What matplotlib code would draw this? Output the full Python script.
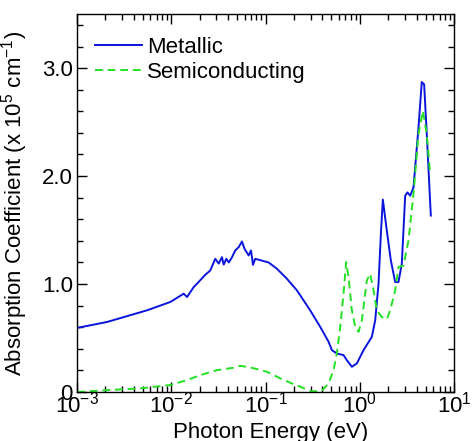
import matplotlib
matplotlib.use("Agg")
import matplotlib.pyplot as plt
from matplotlib import ticker

plt.rcParams['font.family'] = ['Liberation Sans', 'DejaVu Sans']
plt.rcParams['mathtext.default'] = 'regular'

# photon energy (eV) and absorption coefficient (x 1e5 cm^-1)
metallic_energy = [0.001, 0.00208, 0.00552, 0.00975, 0.01352, 0.01466, 0.01726, 0.0187,
                   0.0229, 0.0259, 0.0292, 0.0318, 0.0344, 0.0359, 0.0383, 0.0407, 0.0440,
                   0.0476, 0.0518, 0.0561, 0.0598, 0.0661, 0.0700, 0.0735, 0.0776, 0.1076,
                   0.1318, 0.1683, 0.2148, 0.297, 0.380, 0.466, 0.505, 0.570, 0.671, 0.728,
                   0.822, 0.929, 1.094, 1.340, 1.455, 1.578, 1.671, 1.754, 1.932, 2.133,
                   2.371, 2.570, 2.786, 3.027, 3.199, 3.420, 3.707, 4.188, 4.539, 4.808,
                   5.129, 5.662]
metallic_alpha = [0.594, 0.649, 0.757, 0.834, 0.911, 0.88, 0.972, 1.003,
                  1.086, 1.126, 1.234, 1.19, 1.249, 1.18, 1.234, 1.20, 1.249,
                  1.311, 1.342, 1.394, 1.326, 1.265, 1.311, 1.178, 1.234, 1.20,
                  1.142, 1.049, 0.942, 0.757, 0.603, 0.465, 0.388, 0.357, 0.342, 0.295,
                  0.234, 0.265, 0.388, 0.511, 0.665, 1.003, 1.465, 1.782, 1.495, 1.218,
                  1.018, 1.018, 1.188, 1.818, 1.849, 1.818, 1.895, 2.449, 2.871, 2.849,
                  2.388, 1.634]

semi_energy = [0.001, 0.00208, 0.00469, 0.00975, 0.01466, 0.0203, 0.0305, 0.0458, 0.0538,
               0.0687, 0.1033, 0.1552, 0.2328, 0.3097, 0.3954, 0.4656, 0.526, 0.570,
               0.619, 0.671, 0.716, 0.759, 0.822, 0.893, 0.968, 1.050, 1.186, 1.288,
               1.396, 1.514, 1.710, 1.932, 2.099, 2.371, 2.570, 2.904, 3.281, 3.707,
               4.188, 4.656, 5.129, 5.572]
semi_alpha = [0.0, 0.018, 0.034, 0.065, 0.111, 0.157, 0.203, 0.225, 0.243,
              0.228, 0.188, 0.111, 0.049, 0.006, 0.012, 0.08, 0.203, 0.357,
              0.603, 0.911, 1.203, 1.065, 0.757, 0.603, 0.557, 0.665, 1.034, 1.095,
              0.942, 0.757, 0.695, 0.674, 0.757, 0.942, 1.157, 1.172, 1.403, 1.834,
              2.388, 2.603, 2.388, 2.018]

fig = plt.figure(figsize=(4.76, 4.41), dpi=100)
ax = fig.add_axes([0.162, 0.111, 0.792, 0.857])

ax.plot(metallic_energy, metallic_alpha, color='#0a14dc', lw=1.4, label='Metallic')
ax.plot(semi_energy, semi_alpha, color='#22e022', lw=1.4, ls=(0, (4, 2.5)),
        label='Semiconducting')

ax.set_xscale('log')
ax.set_xlim(1e-3, 1e1)
ax.set_ylim(0, 3.5)

ax.yaxis.set_major_locator(ticker.MultipleLocator(1.0))
ax.yaxis.set_minor_locator(ticker.MultipleLocator(0.2))
ax.yaxis.set_major_formatter(ticker.FuncFormatter(lambda v, p: '0' if v == 0 else '%.1f' % v))
ax.xaxis.set_minor_locator(ticker.LogLocator(base=10, subs=range(2, 10), numticks=20))
ax.xaxis.set_minor_formatter(ticker.NullFormatter())

ax.tick_params(which='both', direction='in', top=True, right=True, labelsize=16, width=1)
ax.tick_params(which='major', length=7)
ax.tick_params(which='minor', length=4)
ax.tick_params(axis='x', which='major', pad=0)
ax.tick_params(axis='y', which='major', pad=3)
for s in ax.spines.values():
    s.set_linewidth(1)

ax.set_xlabel('Photon Energy (eV)', fontsize=16)
ax.xaxis.set_label_coords(0.514, -0.078)
ax.set_ylabel('Absorption Coefficient (x 10$^5$ cm$^{-1}$)', fontsize=16)
ax.yaxis.set_label_coords(-0.125, 0.5)

ax.legend(loc='upper left', bbox_to_anchor=(0.048, 0.94), frameon=False, fontsize=16,
          handlelength=2.1, handletextpad=0.25, labelspacing=0.2, borderpad=0,
          borderaxespad=0)

fig.savefig('out.png', dpi=100)
